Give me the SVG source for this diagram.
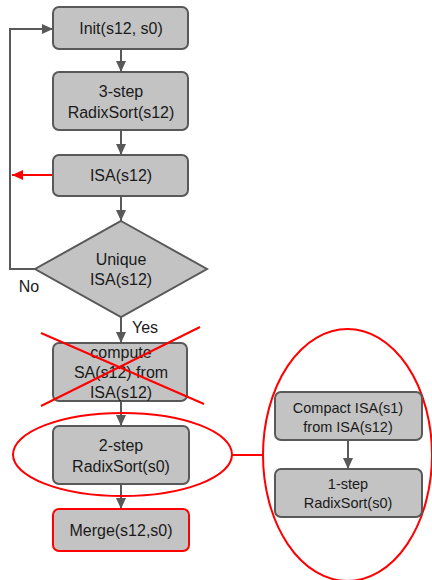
<svg xmlns="http://www.w3.org/2000/svg" width="432" height="580" viewBox="0 0 432 580">
  <style>
    .box { fill: #c3c3c3; stroke: #595959; stroke-width: 2; }
    .hl { stroke: #ff0000; }
    .lbl { font-family: "Liberation Sans", Arial, sans-serif; font-size: 16px; fill: #1a1a1a; text-anchor: middle; }
    .sm { font-size: 14.5px; }
    .edge { fill: none; stroke: #595959; stroke-width: 2; }
    .red { fill: none; stroke: #ff0000; stroke-width: 2; }
  </style>
  <defs>
    <marker id="arr" markerUnits="userSpaceOnUse" markerWidth="12" markerHeight="12" viewBox="0 0 12 12" refX="11" refY="6" orient="auto">
      <path d="M0,1 L11,6 L0,11 Z" fill="#595959"/>
    </marker>
    <marker id="arrRed" markerUnits="userSpaceOnUse" markerWidth="12" markerHeight="12" viewBox="0 0 12 12" refX="11" refY="6" orient="auto">
      <path d="M0,1 L11,6 L0,11 Z" fill="#ff0000"/>
    </marker>
  </defs>

  <!-- connectors -->
  <g id="connectors">
    <line class="edge" x1="121" y1="49" x2="121" y2="72" marker-end="url(#arr)"/>
    <line class="edge" x1="121" y1="130" x2="121" y2="155" marker-end="url(#arr)"/>
    <line class="edge" x1="121" y1="196" x2="121" y2="221" marker-end="url(#arr)"/>
    <line class="edge" x1="121" y1="317" x2="121" y2="343" marker-end="url(#arr)"/>
    <line class="edge" x1="121" y1="401" x2="121" y2="426" marker-end="url(#arr)"/>
    <line class="edge" x1="121" y1="484" x2="121" y2="509" marker-end="url(#arr)"/>
    <polyline class="edge" points="35,269 10,269 10,29 53,29" marker-end="url(#arr)"/>
    <line class="edge" x1="348" y1="440" x2="348" y2="469" marker-end="url(#arr)"/>
    <line class="red" x1="53" y1="175" x2="12" y2="175" marker-end="url(#arrRed)"/>
    <line class="red" x1="232" y1="455" x2="263" y2="455"/>
    <text class="lbl" x="29" y="292">No</text>
    <text class="lbl" x="145" y="333">Yes</text>
  </g>

  <g id="init">
    <rect class="box" x="53" y="7" width="135" height="42" rx="6"/>
    <text class="lbl" x="121" y="34">Init(s12, s0)</text>
  </g>

  <g id="radix3">
    <rect class="box" x="53" y="72" width="135" height="58" rx="6"/>
    <text class="lbl" x="121" y="97">3-step</text>
    <text class="lbl" x="121" y="118">RadixSort(s12)</text>
  </g>

  <g id="isa">
    <rect class="box" x="53" y="155" width="135" height="41" rx="6"/>
    <text class="lbl" x="121" y="181">ISA(s12)</text>
  </g>

  <g id="unique">
    <polygon class="box" points="121,221 207,269 121,317 35,269"/>
    <text class="lbl" x="121" y="265">Unique</text>
    <text class="lbl" x="121" y="285">ISA(s12)</text>
  </g>

  <g id="computeSA">
    <rect class="box" x="53" y="343" width="134" height="58" rx="6"/>
    <text class="lbl" x="121" y="358">compute</text>
    <text class="lbl" x="121" y="378">SA(s12) from</text>
    <text class="lbl" x="121" y="398">ISA(s12)</text>
    <line class="red" x1="41" y1="333" x2="204" y2="404"/>
    <line class="red" x1="41" y1="406" x2="200" y2="327"/>
  </g>

  <g id="radix2">
    <rect class="box" x="53" y="426" width="136" height="58" rx="6"/>
    <text class="lbl" x="121" y="451">2-step</text>
    <text class="lbl" x="121" y="472">RadixSort(s0)</text>
    <ellipse class="red" cx="122.5" cy="454.5" rx="109.5" ry="41.5"/>
  </g>

  <g id="merge">
    <rect class="box hl" x="53" y="509" width="136" height="42" rx="6"/>
    <text class="lbl" x="121" y="536">Merge(s12,s0)</text>
  </g>

  <g id="detail">
    <ellipse class="red" cx="347.5" cy="455" rx="84.5" ry="126"/>
    <g id="compactISA">
      <rect class="box" x="275" y="392" width="147" height="48" rx="6"/>
      <text class="lbl sm" x="348" y="413">Compact ISA(s1)</text>
      <text class="lbl sm" x="348" y="432">from ISA(s12)</text>
    </g>
    <g id="radix1">
      <rect class="box" x="275" y="469" width="147" height="48" rx="6"/>
      <text class="lbl sm" x="348" y="489">1-step</text>
      <text class="lbl sm" x="348" y="508">RadixSort(s0)</text>
    </g>
  </g>
</svg>
